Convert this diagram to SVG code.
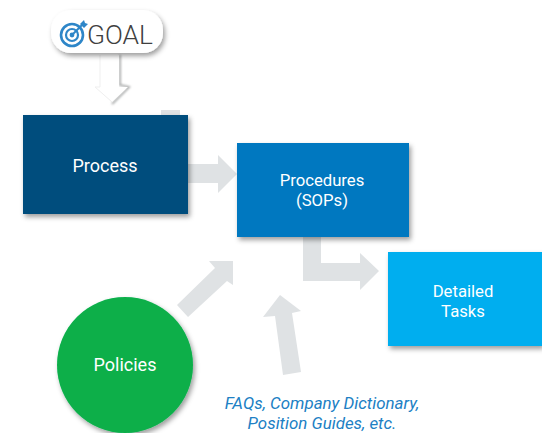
<svg xmlns="http://www.w3.org/2000/svg" width="542" height="433" viewBox="0 0 542 433">
<defs>
<filter id="sh" x="-20%" y="-20%" width="140%" height="140%"><feDropShadow dx="2" dy="3" stdDeviation="2.5" flood-color="#000" flood-opacity="0.38"/></filter>
<filter id="soft" x="-30%" y="-30%" width="160%" height="160%"><feGaussianBlur stdDeviation="0.8"/></filter>
</defs>
<style>
text{font-family:Roboto,"Liberation Sans",sans-serif;text-anchor:middle}
.w{fill:#fff;font-size:16.7px}
.a{fill:#dfe2e4}
.b{filter:url(#sh)}
.i{fill:none;stroke:#2e86c8}
.q{font-size:16.9px;font-style:italic;fill:#2080c4}
</style>
<rect width="542" height="433" fill="#fff"/>
<g id="connectors">
<rect class="a" x="161" y="110" width="19" height="6"/>
<polygon class="a" points="188,164 218,164 218,155 237,174 218,193 218,183 188,183"/>
<polygon class="a" points="303,237 321,237 321,263 360,263 360,253 379,271 360,290 360,281 303,281"/>
<polygon class="a" points="177,305 215,268 209,261 233,261 233,285 227,281 188,317"/>
<polygon class="a" points="283,375 275,316 263,317 280,295 301,311 292,313 301,372"/>
<polyline points="120,55 120,85 129,87 112,104" fill="none" stroke="#a9abab" stroke-width="2" filter="url(#soft)"/>
<polygon points="100,55 119,55 119,87 128,87 112,102 95,87 100,87" fill="#fff"/>
<path d="M100 55V87L95 87L112 102" stroke="#efefef" stroke-width="1" fill="none"/>
</g>
<g id="goal">
<rect class="b" x="51" y="10" width="112" height="43" rx="20" fill="#fff"/>
<g id="goal-icon">
<circle class="i" cx="72" cy="35" r="11" stroke-width="2.6"/>
<circle class="i" cx="72" cy="35" r="6" stroke-width="2.2"/>
<circle cx="72" cy="35" r="2.4" fill="#2e86c8"/>
<path d="M72 35L83 24" stroke="#2e86c8" stroke-width="2" fill="none"/>
<path d="M80 24L84 20L85 23L88 24L84 28Z" fill="#2e86c8"/>
</g>
<text x="120" y="44" font-size="26" font-weight="300" fill="#404040" textLength="66" lengthAdjust="spacingAndGlyphs">GOAL</text>
</g>
<g id="process">
<rect class="b" x="23" y="115" width="165" height="99" fill="#004e7d"/>
<text class="w" x="105" y="172" style="font-size:18px">Process</text>
</g>
<g id="procedures">
<rect class="b" x="237" y="143" width="172" height="94" fill="#0478c0"/>
<text class="w" x="322" y="186">Procedures</text>
<text class="w" x="322" y="206">(SOPs)</text>
</g>
<g id="tasks">
<rect class="b" x="388" y="252" width="154" height="94" fill="#00aeef"/>
<text class="w" x="463" y="297">Detailed</text>
<text class="w" x="463" y="317">Tasks</text>
</g>
<g id="policies">
<circle class="b" cx="125" cy="365" r="68" fill="#08af4a"/>
<text class="w" x="125" y="371" style="font-size:18px">Policies</text>
</g>
<g id="other">
<text class="q" x="322" y="409">FAQs, Company Dictionary,</text>
<text class="q" x="322" y="429">Position Guides, etc.</text>
</g>
</svg>
